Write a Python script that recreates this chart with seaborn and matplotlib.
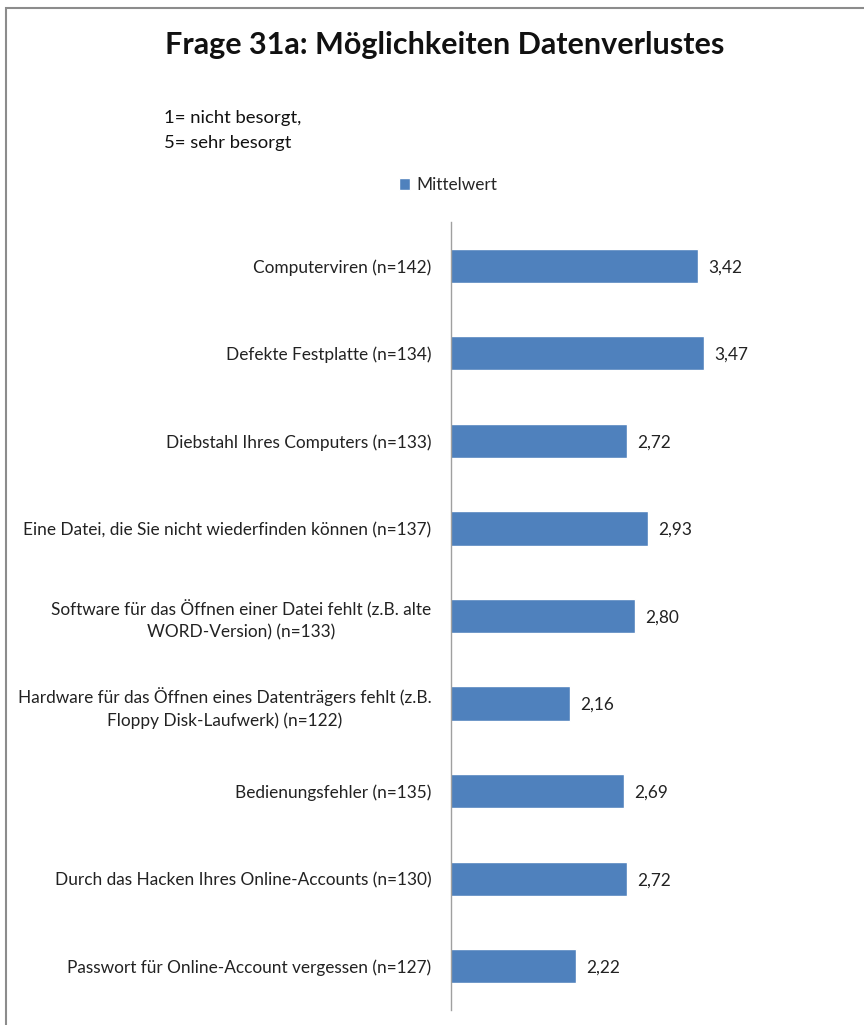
import pandas as pd
import numpy as np
import matplotlib.pyplot as plt
import seaborn as sns
from matplotlib.patches import Rectangle, Patch

# Daten
kategorien = [
    'Computerviren (n=142)',
    'Defekte Festplatte (n=134)',
    'Diebstahl Ihres Computers (n=133)',
    'Eine Datei, die Sie nicht wiederfinden können (n=137)',
    'Software für das Öffnen einer Datei fehlt (z.B. alte\nWORD-Version) (n=133)',
    'Hardware für das Öffnen eines Datenträgers fehlt (z.B.\nFloppy Disk-Laufwerk) (n=122)',
    'Bedienungsfehler (n=135)',
    'Durch das Hacken Ihres Online-Accounts (n=130)',
    'Passwort für Online-Account vergessen (n=127)',
]
mittelwerte = [3.42, 3.47, 2.72, 2.93, 2.80, 2.16, 2.69, 2.72, 2.22]

df = pd.DataFrame({'kategorie': kategorien, 'mittelwert': mittelwerte})

sns.set_style('white')
plt.rcParams['font.family'] = ['Lato', 'DejaVu Sans']

blau = '#4F81BD'

fig = plt.figure(figsize=(8.64, 10.25), dpi=100)
ax = fig.add_axes([451 / 864, 1 - 1010 / 1025, 409 / 864, 788 / 1025])

sns.barplot(data=df, x='mittelwert', y='kategorie', orient='h', color=blau,
            width=0.39, saturation=1, ax=ax)

ax.set_xlim(1, 5)
ax.set_ylim(len(kategorien) - 0.5, -0.5)
ax.set_xlabel('')
ax.set_ylabel('')
ax.set_xticks([])
ax.tick_params(axis='y', length=0, pad=14, labelsize=12.4, labelcolor='#222222')
for lbl in ax.get_yticklabels():
    lbl.set_multialignment('center')
    lbl.set_linespacing(1.45)

for s in ['top', 'right', 'bottom']:
    ax.spines[s].set_visible(False)
ax.spines['left'].set_color('#A0A0A0')
ax.spines['left'].set_linewidth(1)

# Datenbeschriftungen
for i, v in enumerate(mittelwerte):
    ax.text(v + 0.1, i, f'{v:.2f}'.replace('.', ','), va='center_baseline', ha='left',
            fontsize=12.4, color='#222222')

# Titel und Hinweise
fig.text(445 / 864, 1 - 45 / 1025, 'Frage 31a: Möglichkeiten Datenverlustes',
         ha='center', va='center', fontsize=22, fontweight='bold', color='#111111')
fig.text(164 / 864, 1 - 118 / 1025, '1= nicht besorgt,', ha='left', va='center',
         fontsize=13.3, color='#111111')
fig.text(164 / 864, 1 - 143 / 1025, '5= sehr besorgt', ha='left', va='center',
         fontsize=13.3, color='#111111')

# Legende
fig.legend(handles=[Patch(facecolor=blau, label='Mittelwert')],
           loc='center', bbox_to_anchor=(448 / 864, 1 - 185 / 1025), frameon=False,
           fontsize=12.4, handlelength=0.65, handleheight=0.65, handletextpad=0.4)

# Rahmen
fig.patches.append(Rectangle((6 / 864, -0.1), 1.2, 1 - 8 / 1025 + 0.1,
                             transform=fig.transFigure, fill=False,
                             edgecolor='#8C8C8C', linewidth=1.5))

plt.savefig('out.png', dpi=100)
